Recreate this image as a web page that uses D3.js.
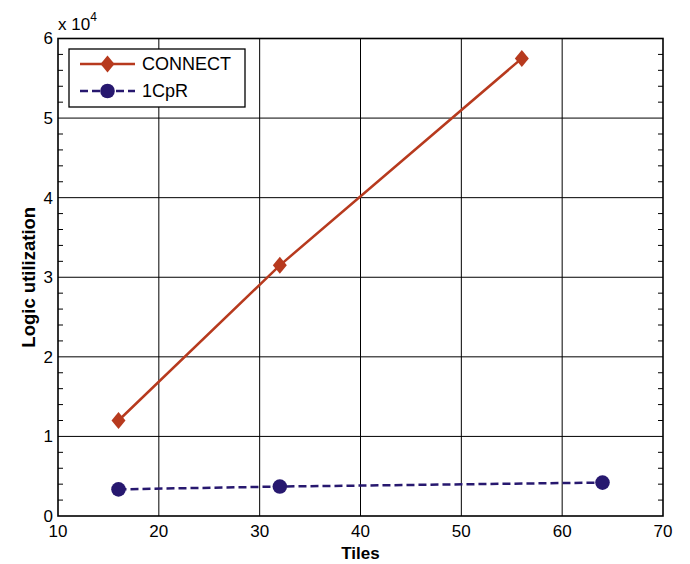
<!DOCTYPE html>
<html>
<head>
<meta charset="utf-8">
<script src="https://cdn.jsdelivr.net/npm/d3@7"></script>
<style>
  body { margin: 0; background: #fff; }
  text { font-family: "Liberation Sans", Arial, sans-serif; }
</style>
</head>
<body>
<div id="chart"></div>
<script>
// Data
const tilesConnect = [16, 32, 56];
const logicConnect = [12000, 31500, 57500];
const tilesOneCpR = [16, 32, 64];
const logicOneCpR = [3350, 3700, 4200];
const xTicks = [10, 20, 30, 40, 50, 60, 70];
const yTicks = [0, 1, 2, 3, 4, 5, 6];
const seriesNames = ["CONNECT", "1CpR"];

(function(){
    const W = 690, H = 564;
    const margin = {top: 38.5, right: 27, bottom: 48, left: 58};
    const width = W - margin.left - margin.right;
    const height = H - margin.top - margin.bottom;

    const svg = d3.select("#chart").append("svg")
        .attr("width", W)
        .attr("height", H);

    const g = svg.append("g")
        .attr("transform", "translate(" + margin.left + "," + margin.top + ")");

    const x = d3.scaleLinear().domain([10, 70]).range([0, width]);
    const y = d3.scaleLinear().domain([0, 60000]).range([height, 0]);

    // grid lines
    g.selectAll(".vgrid")
        .data(xTicks.slice(1, -1))
        .enter().append("line")
        .attr("x1", d => x(d)).attr("x2", d => x(d))
        .attr("y1", 0).attr("y2", height)
        .style("stroke", "#000").style("stroke-width", 1);

    g.selectAll(".hgrid")
        .data(yTicks.slice(1, -1))
        .enter().append("line")
        .attr("x1", 0).attr("x2", width)
        .attr("y1", d => y(d * 1e4)).attr("y2", d => y(d * 1e4))
        .style("stroke", "#000").style("stroke-width", 1);

    // minor ticks on y (inside, both sides)
    const minor = d3.range(0, 60000, 2000).filter(v => v % 10000 !== 0);
    [0, width].forEach(side => {
        g.selectAll(null)
            .data(minor)
            .enter().append("line")
            .attr("x1", side).attr("x2", side === 0 ? 5 : side - 5)
            .attr("y1", d => y(d)).attr("y2", d => y(d))
            .style("stroke", "#000").style("stroke-width", 1);
    });

    // frame
    g.append("rect")
        .attr("x", 0).attr("y", 0)
        .attr("width", width).attr("height", height)
        .style("fill", "none").style("stroke", "#000").style("stroke-width", 1.6);

    // tick labels
    g.selectAll(".xlab")
        .data(xTicks)
        .enter().append("text")
        .attr("x", d => x(d))
        .attr("y", height + 15)
        .attr("text-anchor", "middle")
        .attr("dy", "0.35em")
        .style("font-size", "17px")
        .text(d => d);

    g.selectAll(".ylab")
        .data(yTicks)
        .enter().append("text")
        .attr("x", -5)
        .attr("y", d => y(d * 1e4))
        .attr("text-anchor", "end")
        .attr("dy", "0.35em")
        .style("font-size", "17px")
        .text(d => d);

    // exponent
    const expo = g.append("text")
        .attr("x", 0).attr("y", -9)
        .style("font-size", "17px");
    expo.append("tspan").text("x 10");
    expo.append("tspan").attr("dy", -9).style("font-size", "12px").text("4");

    // axis titles
    svg.append("text")
        .attr("x", margin.left + width / 2)
        .attr("y", 559)
        .attr("text-anchor", "middle")
        .style("font-size", "17px").style("font-weight", "bold")
        .text("Tiles");

    svg.append("text")
        .attr("transform", "translate(35," + (margin.top + height / 2) + ") rotate(-90)")
        .attr("text-anchor", "middle")
        .style("font-size", "18.5px").style("font-weight", "bold")
        .text("Logic utilization");

    const red = "#b73a1e", blue = "#27186f";
    const line = d3.line().x(d => x(d[0])).y(d => y(d[1]));

    const connect = tilesConnect.map((t, i) => [t, logicConnect[i]]);
    const onecpr = tilesOneCpR.map((t, i) => [t, logicOneCpR[i]]);

    g.append("path").datum(connect).attr("d", line)
        .style("fill", "none").style("stroke", red).style("stroke-width", 2.5);
    g.append("path").datum(onecpr).attr("d", line)
        .style("fill", "none").style("stroke", blue).style("stroke-width", 2.5)
        .style("stroke-dasharray", "8,4");

    // diamond marker, a bit taller than wide
    const diamond = "M0,-8.5L7,0L0,8.5L-7,0Z";
    g.selectAll(".dm").data(connect).enter().append("path")
        .attr("d", diamond)
        .attr("transform", d => "translate(" + x(d[0]) + "," + y(d[1]) + ")")
        .style("fill", red);

    g.selectAll(".dt").data(onecpr).enter().append("circle")
        .attr("cx", d => x(d[0])).attr("cy", d => y(d[1]))
        .attr("r", 7.3)
        .style("fill", blue);

    // legend
    const lg = svg.append("g").attr("transform", "translate(69,49)");
    lg.append("rect")
        .attr("width", 176).attr("height", 58)
        .style("fill", "#fff").style("stroke", "#000").style("stroke-width", 1.3);

    const rows = [
        {name: seriesNames[0], color: red, dash: null, y: 15},
        {name: seriesNames[1], color: blue, dash: "8,4", y: 42}
    ];
    rows.forEach(r => {
        lg.append("line")
            .attr("x1", 11).attr("x2", 66)
            .attr("y1", r.y).attr("y2", r.y)
            .style("stroke", r.color).style("stroke-width", 2.5)
            .style("stroke-dasharray", r.dash);
        if (r.dash) {
            lg.append("circle").attr("cx", 38.5).attr("cy", r.y).attr("r", 7.3).style("fill", r.color);
        } else {
            lg.append("path").attr("d", diamond)
                .attr("transform", "translate(38.5," + r.y + ")")
                .style("fill", r.color);
        }
        lg.append("text")
            .attr("x", 73).attr("y", r.y)
            .attr("dy", "0.35em")
            .style("font-size", "18px")
            .text(r.name);
    });
})();
</script>
</body>
</html>
